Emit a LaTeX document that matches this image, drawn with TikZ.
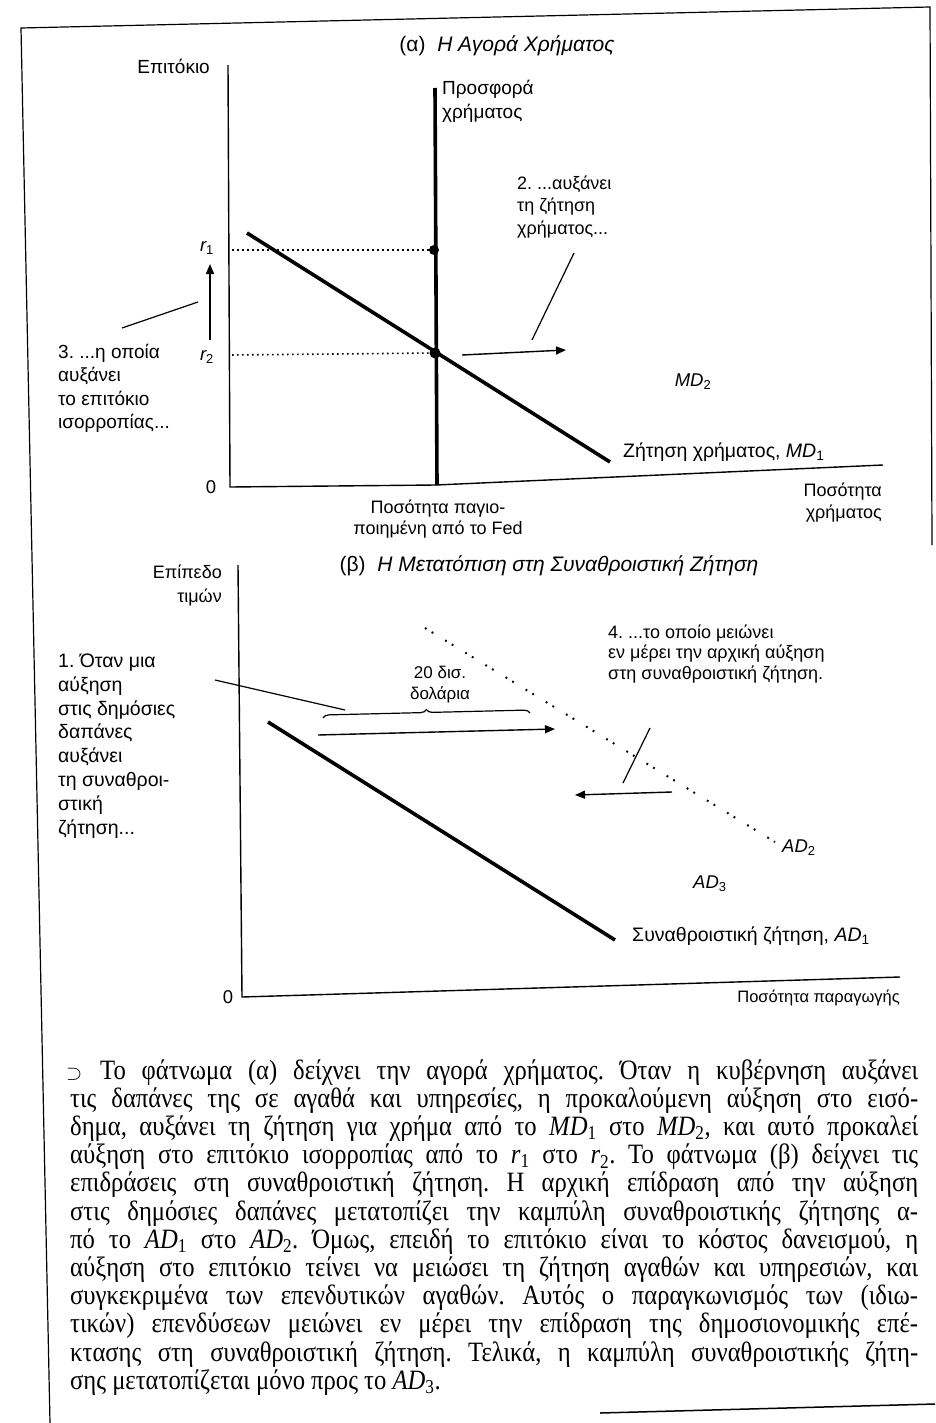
\documentclass[tikz,border=0pt]{standalone}
\usepackage{fontspec}
\setmainfont{Liberation Sans}
\newfontfamily\capfont[FakeStretch=0.88]{Liberation Serif}
\usetikzlibrary{arrows.meta,decorations.pathreplacing}
\newcommand\lidx[1]{\textsubscript{#1}}
\newcommand\fsz[2]{\fontsize{#1}{#2}\selectfont}
\frenchspacing
\begin{document}
\begin{tikzpicture}[x=1pt,y=-1pt,
 lbl/.style={font=\fsz{18.5}{23.5}, inner sep=0pt, align=left},
 axisline/.style={line width=1.4pt},
 curve/.style={line width=3.6pt},
 lead/.style={line width=1.2pt},
 arr/.style={line width=1.4pt,-{Triangle[length=10pt,width=8pt]}},
 dotl/.style={line width=1.6pt, dash pattern=on 1.6pt off 3.4pt},
 sparse/.style={line width=2pt, dash pattern=on 1.8pt off 6pt on 1.8pt off 14pt},
 capt/.style={font=\capfont\fsz{28}{28}, inner sep=0pt, anchor=base west},
 bigdot/.style={fill=black},
]
\fill[white] (0,0) rectangle (935,1423);
\useasboundingbox (0,0) rectangle (935,1423);

% frame
\coordinate (f1) at (21,28);
\coordinate (f2) at (930,7);
\coordinate (f3) at (932,545);
\coordinate (f4) at (50,1423);
\draw[line width=1.2pt] (f4) -- (f1) -- (f2) -- (f3);
\coordinate (b1) at (600,1413);
\coordinate (b2) at (935,1404);
\draw[line width=1.5pt] (b1) -- (b2);

% ===== panel (a)
\node[lbl, anchor=base, font=\fsz{21}{24}] (titleA) at (507,52) {(α)\ \ {\itshape Η Αγορά Χρήματος}};
\node[lbl, anchor=base east, font=\fsz{19}{24}] (yA) at (210,74) {Επιτόκιο};
\coordinate (Atop) at (228,65);
\coordinate (A0) at (230,487);
\coordinate (Amid) at (436,485);
\coordinate (Aend) at (883,465);
\draw[axisline] (Atop) -- (A0) -- (Amid) -- (Aend);

\coordinate (S1) at (435,88);
\coordinate (S0) at (437,485);
\draw[curve] (S1) -- (S0);
\node[lbl, anchor=north west, font=\fsz{19}{24}] (supply) at (442,80) {Προσφορά\\χρήματος};

\coordinate (MD1a) at (247,233);
\coordinate (MD1b) at (610,462);
\draw[curve] (MD1a) -- (MD1b);
\node[lbl, anchor=base west, font=\fsz{19.5}{24}] (MD1lab) at (623,457) {Ζήτηση χρήματος, {\itshape MD}\lidx{1}};
\node[lbl] (MD2lab) at (693,382) {{\itshape MD}\lidx{2}};

\node[lbl] (r1) at (207,248) {{\itshape r}\lidx{1}};
\node[lbl] (r2) at (207,357) {{\itshape r}\lidx{2}};
\coordinate (r1a) at (232,250);
\coordinate (r2a) at (232,355);
\coordinate (E1) at (434,250);
\coordinate (E2) at (435,353);
\draw[dotl] (r1a) -- (E1);
\draw[dotl] (r2a) -- (E2);
\fill[bigdot] (E1) circle (5pt);
\fill[bigdot] (E2) circle (5.5pt);

\coordinate (up0) at (210,340);
\coordinate (up1) at (210,264);
\draw[arr] (up0) -- (up1);

\node[lbl, anchor=north west, font=\fsz{19}{23.3}] (t3) at (58,344)
  {3. ...η οποία\\αυξάνει\\το επιτόκιο\\ισορροπίας...};
\coordinate (l3a) at (122,328);
\coordinate (l3b) at (198,302);
\draw[lead] (l3a) -- (l3b);

\node[lbl, anchor=north west, font=\fsz{18}{22.5}] (t2) at (517,175.7)
  {2. ...αυξάνει\\τη ζήτηση\\χρήματος...};
\coordinate (l2a) at (574,253);
\coordinate (l2b) at (532,340);
\draw[lead] (l2a) -- (l2b);
\coordinate (rt0) at (462,355);
\coordinate (rt1) at (566,350);
\draw[arr] (rt0) -- (rt1);

\node[lbl] (zeroA) at (211,487) {0};
\node[lbl, anchor=north, align=center, font=\fsz{18}{21}] (fed) at (438,499.7)
  {Ποσότητα παγιο-\\ποιημένη από το Fed};
\node[lbl, anchor=north east, align=right, font=\fsz{18}{22}] (xA) at (882,482.7)
  {Ποσότητα\\χρήματος};

% ===== panel (b)
\node[lbl, anchor=base, font=\fsz{21}{24}] (titleB) at (549,571) {(β)\ \ {\itshape Η Μετατόπιση στη Συναθροιστική Ζήτηση}};
\node[lbl, anchor=north east, align=right, font=\fsz{18}{24}] (yB) at (222,564.7)
  {Επίπεδο\\τιμών};
\coordinate (Btop) at (238,565);
\coordinate (B0) at (242,997);
\coordinate (Bend) at (900,977);
\draw[axisline] (Btop) -- (B0) -- (Bend);
\node[lbl] (zeroB) at (228,997) {0};
\node[lbl, anchor=base east, font=\fsz{16.5}{20}] (xB) at (900,1002) {Ποσότητα παραγωγής};

\coordinate (AD1a) at (268,722);
\coordinate (AD1b) at (615,940);
\draw[curve] (AD1a) -- (AD1b);
\node[lbl, anchor=base west, font=\fsz{19.5}{24}] (AD1lab) at (632,941) {Συναθροιστική ζήτηση, {\itshape AD}\lidx{1}};

\coordinate (AD2a) at (425,628);
\coordinate (AD2b) at (775,842);
\draw[sparse] (AD2a) -- (AD2b);
\node[lbl, anchor=west] (AD2lab) at (782,848) {{\itshape AD}\lidx{2}};
\node[lbl, anchor=west] (AD3lab) at (693,884) {{\itshape AD}\lidx{3}};

\node[lbl, anchor=north west, font=\fsz{19.5}{23.8}] (t1) at (58,653.6)
  {1. Όταν μια\\αύξηση\\στις δημόσιες\\δαπάνες\\αυξάνει\\τη συναθροι-\\στική\\ζήτηση...};
\coordinate (l1a) at (215,680);
\coordinate (l1b) at (345,710);
\draw[lead] (l1a) -- (l1b);

\node[lbl, anchor=north, align=center, font=\fsz{17}{21}] (bil) at (440,665.5)
  {20 δισ.\\δολάρια};
\coordinate (br1) at (323,718);
\coordinate (br2) at (530,713);
\draw[line width=1.2pt, decorate, decoration={brace, amplitude=6pt}] (br1) -- (br2);
\coordinate (ra0) at (318,735);
\coordinate (ra1) at (555,729);
\draw[arr] (ra0) -- (ra1);

\node[lbl, anchor=north west, font=\fsz{18}{20.5}] (t4) at (608,624.7)
  {4. ...το οποίο μειώνει\\εν μέρει την αρχική αύξηση\\στη συναθροιστική ζήτηση.};
\coordinate (l4a) at (650,728);
\coordinate (l4b) at (623,783);
\draw[lead] (l4a) -- (l4b);
\coordinate (la0) at (672,792);
\coordinate (la1) at (575,795);
\draw[arr] (la0) -- (la1);

% ===== caption
\node[capt, anchor=base west, font=\fsz{20}{20}] (sym) at (66,1079) {$\supset$};
\node[capt] (c1) at (100,1079) {\makebox[818pt][s]{Το φάτνωμα (α) δείχνει την αγορά χρήματος. Όταν η κυβέρνηση αυξάνει}};
\node[capt] (c2) at (70,1107.2) {\makebox[848pt][s]{τις δαπάνες της σε αγαθά και υπηρεσίες, η προκαλούμενη αύξηση στο εισό-}};
\node[capt] (c3) at (70,1135.4) {\makebox[848pt][s]{δημα, αυξάνει τη ζήτηση για χρήμα από το {\itshape MD}\lidx{1} στο {\itshape MD}\lidx{2}, και αυτό προκαλεί}};
\node[capt] (c4) at (70,1163.6) {\makebox[848pt][s]{αύξηση στο επιτόκιο ισορροπίας από το {\itshape r}\lidx{1} στο {\itshape r}\lidx{2}. Το φάτνωμα (β) δείχνει τις}};
\node[capt] (c5) at (70,1191.8) {\makebox[848pt][s]{επιδράσεις στη συναθροιστική ζήτηση. Η αρχική επίδραση από την αύξηση}};
\node[capt] (c6) at (70,1220) {\makebox[848pt][s]{στις δημόσιες δαπάνες μετατοπίζει την καμπύλη συναθροιστικής ζήτησης α-}};
\node[capt] (c7) at (70,1248.2) {\makebox[848pt][s]{πό το {\itshape AD}\lidx{1} στο {\itshape AD}\lidx{2}. Όμως, επειδή το επιτόκιο είναι το κόστος δανεισμού, η}};
\node[capt] (c8) at (70,1276.4) {\makebox[848pt][s]{αύξηση στο επιτόκιο τείνει να μειώσει τη ζήτηση αγαθών και υπηρεσιών, και}};
\node[capt] (c9) at (70,1304.6) {\makebox[848pt][s]{συγκεκριμένα των επενδυτικών αγαθών. Αυτός ο παραγκωνισμός των (ιδιω-}};
\node[capt] (c10) at (70,1332.8) {\makebox[848pt][s]{τικών) επενδύσεων μειώνει εν μέρει την επίδραση της δημοσιονομικής επέ-}};
\node[capt] (c11) at (70,1361) {\makebox[848pt][s]{κτασης στη συναθροιστική ζήτηση. Τελικά, η καμπύλη συναθροιστικής ζήτη-}};
\node[capt] (c12) at (70,1389.2) {σης μετατοπίζεται μόνο προς το {\itshape AD}\lidx{3}.};
\end{tikzpicture}
\end{document}
